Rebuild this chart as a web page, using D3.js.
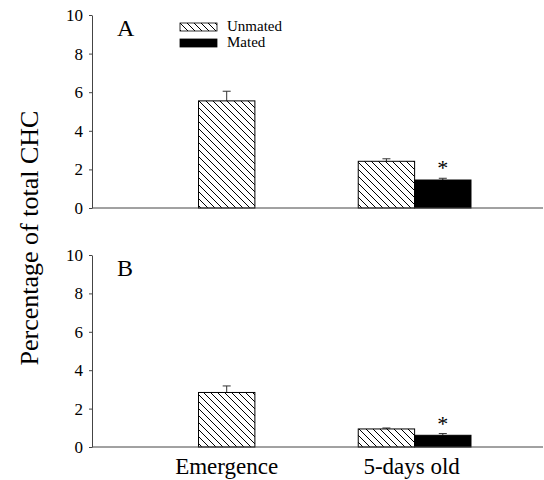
<!DOCTYPE html>
<html>
<head>
<meta charset="utf-8">
<script src="https://cdn.jsdelivr.net/npm/d3@7"></script>
<style>
	body { margin: 0; background: #fff; }
	svg text { font-family: "Liberation Serif", "Times New Roman", serif !important; fill: #000; }
	.axis path, .axis line { stroke: #444; }
</style>
</head>
<body>
<div id="chart"></div>
<script>
// data
const categories = ["Emergence", "5-days old"];
const groups = ["Unmated", "Mated"];
const panels = ["A", "B"];
const yTicks = [0, 2, 4, 6, 8, 10];

// panel A, per category: [unmated, mated]; null = no bar
const meanA = [[5.55, null], [2.42, 1.45]];
const errA = [[0.5, null], [0.13, 0.09]];
const starA = [false, true];

// panel B
const meanB = [[2.84, null], [0.94, 0.61]];
const errB = [[0.34, null], [0.05, 0.09]];
const starB = [false, true];

const W = 544, H = 480;
const serif = '"Liberation Serif", "Times New Roman", serif';
const svg = d3.select("#chart").append("svg")
	.attr("width", W).attr("height", H);

// hatch pattern for unmated bars
const defs = svg.append("defs");
const pat = defs.append("pattern")
	.attr("id", "hatch")
	.attr("patternUnits", "userSpaceOnUse")
	.attr("width", 7).attr("height", 7);
pat.append("path")
	.attr("d", "M-1,-1 L8,8 M-8,-1 L1,8 M6,-1 L15,8")
	.attr("stroke", "#000")
	.attr("stroke-width", 1);

const x = d3.scalePoint()
	.domain(categories)
	.range([92, 543])
	.padding(0.7)
	.align(0.512);
const barW = x.step() * 0.3;

const panelDefs = [
	{label: panels[0], mean: meanA, err: errA, star: starA, top: 15, bottom: 208},
	{label: panels[1], mean: meanB, err: errB, star: starB, top: 255, bottom: 447}
];

panelDefs.forEach(function (p, pi) {
	const y = d3.scaleLinear().domain([0, 10]).range([p.bottom, p.top]);
	const g = svg.append("g");

	// bars
	categories.forEach(function (c, ci) {
		const vals = p.mean[ci];
		const nBars = vals.filter(v => v !== null).length;
		vals.forEach(function (v, gi) {
			if (v === null) return;
			let x0;
			if (nBars === 1) x0 = x(c) - barW / 2;
			else x0 = x(c) - barW + gi * barW;
			const e = p.err[ci][gi];
			// error bar
			g.append("line")
				.attr("x1", x0 + barW / 2).attr("x2", x0 + barW / 2)
				.attr("y1", y(v)).attr("y2", y(v + e))
				.attr("stroke", "#333").attr("stroke-width", 1);
			g.append("line")
				.attr("x1", x0 + barW / 2 - 4).attr("x2", x0 + barW / 2 + 4)
				.attr("y1", y(v + e)).attr("y2", y(v + e))
				.attr("stroke", "#333").attr("stroke-width", 1);
			g.append("rect")
				.attr("x", x0).attr("y", y(v))
				.attr("width", barW).attr("height", y(0) - y(v))
				.attr("fill", gi === 0 ? "url(#hatch)" : "#000")
				.attr("stroke", "#000").attr("stroke-width", 1);
		});
		if (p.star[ci]) {
			const e = p.err[ci][1];
			g.append("text")
				.attr("x", x(c) + barW / 2)
				.attr("y", y(vals[1] + e) - 3)
				.attr("text-anchor", "middle")
				.attr("font-size", 22)
				.style("font-family", serif)
				.text("*");
		}
	});

	// y axis
	g.append("g")
		.attr("class", "axis")
		.attr("transform", "translate(92,0)")
		.call(d3.axisLeft(y).tickValues(yTicks).tickSize(3).tickPadding(6).tickSizeOuter(0))
		.attr("font-family", serif)
		.call(s => s.selectAll("text").attr("font-size", 17).style("font-family", serif));

	// x baseline
	g.append("line")
		.attr("x1", 92).attr("x2", 543)
		.attr("y1", y(0)).attr("y2", y(0))
		.attr("stroke", "#444").attr("stroke-width", 1);

	// panel letter
	g.append("text")
		.attr("x", 117).attr("y", p.top + 21)
		.attr("font-size", 24)
		.style("font-family", serif)
		.text(p.label);
});

// x labels
svg.selectAll(".xlab")
	.data(categories)
	.enter().append("text")
	.attr("class", "xlab")
	.attr("x", d => x(d) + (d === categories[1] ? -3 : 0))
	.attr("y", 474)
	.attr("text-anchor", "middle")
	.attr("font-size", 23)
	.style("font-family", serif)
	.text(d => d);

// y title
svg.append("text")
	.attr("transform", "translate(38,238) rotate(-90)")
	.attr("text-anchor", "middle")
	.attr("font-size", 26)
	.style("font-family", serif)
	.text("Percentage of total CHC");

// legend
const leg = svg.append("g").attr("transform", "translate(180,23)");
groups.forEach(function (gname, i) {
	leg.append("rect")
		.attr("x", 0).attr("y", i * 16)
		.attr("width", 37).attr("height", 8)
		.attr("fill", i === 0 ? "url(#hatch)" : "#000")
		.attr("stroke", "#000").attr("stroke-width", 0.8);
	leg.append("text")
		.attr("x", 47).attr("y", i * 16 + 8)
		.attr("font-size", 15)
		.style("font-family", serif)
		.text(gname);
});
</script>
</body>
</html>
